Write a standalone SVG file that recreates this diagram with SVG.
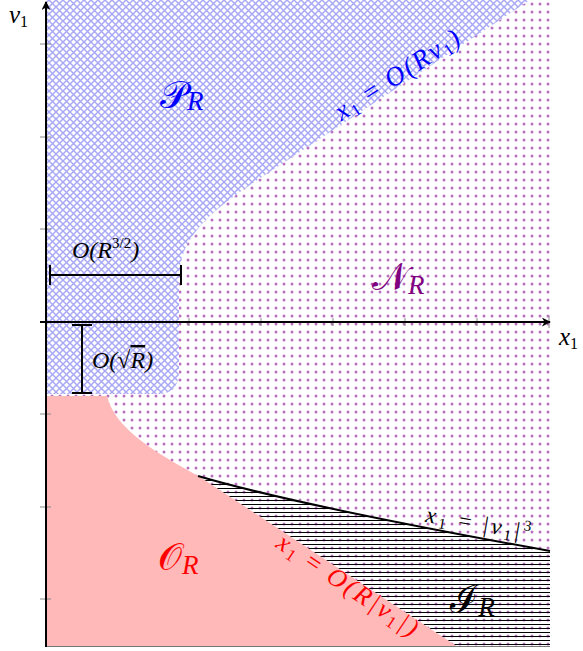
<svg xmlns="http://www.w3.org/2000/svg" width="583" height="651" viewBox="0 0 583 651">
<defs>
<pattern id="dots" patternUnits="userSpaceOnUse" x="2" y="2" width="8" height="8">
<circle cx="2" cy="2" r="1.5" fill="#b870bf"/>
</pattern>
<pattern id="cross" patternUnits="userSpaceOnUse" width="7" height="7">
<rect width="7" height="7" fill="#ffffff"/>
<path d="M0,0 L7,7 M7,0 L0,7" stroke="#a8a8f6" stroke-width="1.5"/>
</pattern>
<pattern id="hlines" patternUnits="userSpaceOnUse" width="8" height="4">
<line x1="0" y1="0.5" x2="8" y2="0.5" stroke="#000" stroke-width="1"/>
</pattern>
<marker id="arr" viewBox="0 0 10 10" refX="9" refY="5" markerWidth="9" markerHeight="9" markerUnits="userSpaceOnUse" orient="auto">
<path d="M0,0 L10,5 L0,10 L3,5 Z" fill="#000"/>
</marker>
<style>
.m{font-family:"Liberation Serif","Times New Roman",serif;font-style:italic}
.u{font-style:normal}
.tick{stroke:#888;stroke-width:1}
.scr{font-family:"DejaVu Serif","Noto Sans",serif;font-style:normal}
</style>
</defs>
<g id="regions">
<rect id="N-region" x="46" y="0" width="504" height="647" fill="url(#dots)"/>
<path id="I-region" d="M196,476 Q300,506 550,551 L550,647 L458,647 Z" fill="url(#hlines)"/>
<path id="P-region" d="M46,0 L530,0 L262,177 C222,204 179,232 179,278 L179,370 Q179,394 158,394 L46,394 Z" fill="url(#cross)"/>
<path id="O-region" d="M46,396 L107,396 C115,430 160,455 200,477 L458,647 L46,647 Z" fill="#ffb9b9"/>
</g>
<g id="connectors">
<path id="boundary-cubic" d="M198,476 Q300,506 550,551" fill="none" stroke="#000" stroke-width="2"/>
<line x1="46" y1="646.5" x2="550" y2="646.5" stroke="#777" stroke-width="1.2"/>
<g id="ticks">
<line class="tick" x1="117" y1="318" x2="117" y2="326"/>
<line class="tick" x1="189" y1="318" x2="189" y2="326"/>
<line class="tick" x1="261" y1="318" x2="261" y2="326"/>
<line class="tick" x1="333" y1="318" x2="333" y2="326"/>
<line class="tick" x1="405" y1="318" x2="405" y2="326"/>
<line class="tick" x1="477" y1="318" x2="477" y2="326"/>
<line class="tick" x1="549" y1="316" x2="549" y2="328"/>
<line class="tick" x1="40" y1="44" x2="51" y2="44"/>
<line class="tick" x1="40" y1="137" x2="51" y2="137"/>
<line class="tick" x1="40" y1="229" x2="51" y2="229"/>
<line class="tick" x1="40" y1="322" x2="51" y2="322"/>
<line class="tick" x1="40" y1="414" x2="51" y2="414"/>
<line class="tick" x1="40" y1="507" x2="51" y2="507"/>
<line class="tick" x1="40" y1="599" x2="51" y2="599"/>
</g>
<line id="x-axis" x1="40" y1="322" x2="550" y2="322" stroke="#000" stroke-width="2" marker-end="url(#arr)"/>
<line id="y-axis" x1="46" y1="647" x2="46" y2="2" stroke="#000" stroke-width="2" marker-end="url(#arr)"/>
<g id="brackets" stroke="#000" stroke-width="2">
<line x1="50" y1="275" x2="181" y2="275"/>
<line x1="50" y1="265" x2="50" y2="285"/>
<line x1="181" y1="265" x2="181" y2="285"/>
<line x1="82" y1="325" x2="82" y2="393"/>
<line x1="72" y1="325" x2="92" y2="325"/>
<line x1="72" y1="393" x2="92" y2="393"/>
</g>
</g>
<g id="labels">
<text class="m" x="9" y="23" font-size="25">v<tspan class="u" font-size="16" dy="4">1</tspan></text>
<text class="m" x="559" y="345" font-size="25">x<tspan class="u" font-size="16" dy="4">1</tspan></text>
<text class="m" x="72" y="258" font-size="24">O(R<tspan class="u" font-size="15" dy="-10">3/2</tspan><tspan dy="10">)</tspan></text>
<text class="m" x="92" y="368" font-size="24">O(<tspan class="u">√</tspan><tspan text-decoration="overline">R</tspan>)</text>
<g id="P"><text class="scr" x="160" y="108" font-size="38" fill="#0000ff">𝒫<tspan class="m" font-size="27" dy="2">R</tspan></text></g>
<g id="N"><text class="scr" x="372" y="290" font-size="38" fill="#800080">𝒩<tspan class="m" font-size="27" dy="4">R</tspan></text></g>
<g id="O"><text class="scr" x="158" y="570" font-size="38" fill="#ff0000">𝒪<tspan class="m" font-size="27" dy="4">R</tspan></text></g>
<g id="I"><text class="scr" x="450" y="612" font-size="38" fill="#000">ℐ<tspan class="m" font-size="27" dy="4">R</tspan></text></g>
<text class="m" font-size="27" fill="#0000ff" text-anchor="middle" textLength="144" lengthAdjust="spacing" transform="translate(402,82) rotate(-33)">x<tspan class="u" font-size="17" dy="4">1</tspan><tspan class="u" dy="-4"> = </tspan>O(Rv<tspan class="u" font-size="17" dy="4">1</tspan><tspan dy="-4">)</tspan></text>
<text class="m" font-size="23" fill="#000" text-anchor="middle" textLength="106" lengthAdjust="spacing" transform="translate(477,531) rotate(10)">x<tspan class="u" font-size="15" dy="4">1</tspan><tspan class="u" dy="-4"> = |</tspan>v<tspan class="u" font-size="15" dy="4">1</tspan><tspan class="u" dy="-4">|</tspan><tspan class="u" font-size="15" dy="-9">3</tspan></text>
<text class="m" font-size="26" fill="#ff0000" text-anchor="middle" textLength="164" lengthAdjust="spacing" transform="translate(343,592) rotate(33.7)">x<tspan class="u" font-size="17" dy="4">1</tspan><tspan class="u" dy="-4"> = </tspan>O(R|v<tspan class="u" font-size="17" dy="4">1</tspan><tspan dy="-4">|)</tspan></text>
</g>
</svg>
